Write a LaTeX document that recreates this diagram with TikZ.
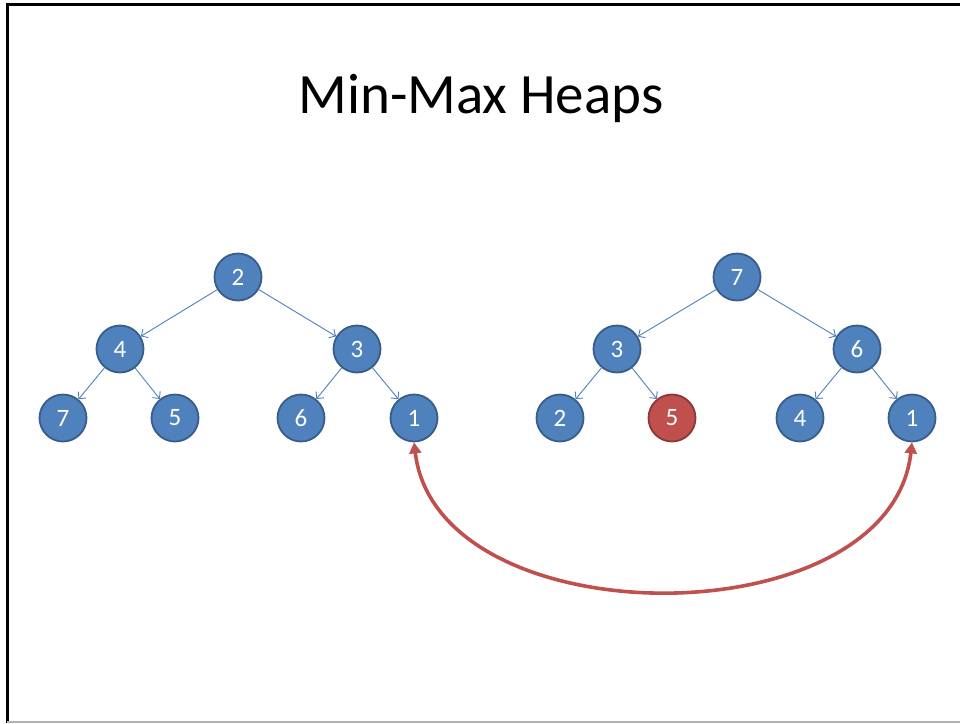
\documentclass[tikz,border=0pt]{standalone}
\usepackage{fontspec}
\setmainfont{Carlito}
\usetikzlibrary{arrows.meta}
\definecolor{nodeblue}{HTML}{4F81BD}
\definecolor{nodeedge}{HTML}{385D8A}
\definecolor{nodered}{HTML}{C0504D}
\definecolor{rededge}{HTML}{8C3836}
\begin{document}
\begin{tikzpicture}[x=1pt,y=-1pt,
  hnode/.style={circle,fill=nodeblue,draw=nodeedge,line width=1.8pt,minimum size=47pt,inner sep=0pt,text=white,font=\fontsize{25}{28}\selectfont},
  rnode/.style={hnode,fill=nodered,draw=rededge},
  tedge/.style={draw=nodeblue,line width=0.9pt,-{Straight Barb[length=5pt,width=10pt]}},
  swap/.style={draw=nodered,line width=3.6pt,{Triangle[length=11pt,width=12pt]}-{Triangle[length=11pt,width=12pt]}}]
\useasboundingbox (0,0) rectangle (960,723);
\fill[white] (0,0) rectangle (960,723);
\draw[black,line width=3pt] (7,723) -- (7,4.5) -- (960,4.5);
\draw[gray!60,line width=1.5pt] (7,722) -- (960,722);
\node (title) at (481,98) {\fontsize{57}{64}\selectfont Min-Max Heaps};
% left tree
\node[hnode] (a1) at (238,277) {2};
\node[hnode] (a2) at (120,349) {4};
\node[hnode] (a3) at (357,349) {3};
\node[hnode] (a4) at (63,418) {7};
\node[hnode] (a5) at (175,418) {5};
\node[hnode] (a6) at (301,418) {6};
\node[hnode] (a7) at (414,418) {1};
% right tree
\node[hnode] (b1) at (737,277) {7};
\node[hnode] (b2) at (617,349) {3};
\node[hnode] (b3) at (857,349) {6};
\node[hnode] (b4) at (560,418) {2};
\node[rnode] (b5) at (672,418) {5};
\node[hnode] (b6) at (800,418) {4};
\node[hnode] (b7) at (912,418) {1};
\foreach \p/\c in {a1/a2,a1/a3,a2/a4,a2/a5,a3/a6,a3/a7,b1/b2,b1/b3,b2/b4,b2/b5,b3/b6,b3/b7}
  \draw[tedge] (\p) -- (\c);
\draw[swap] (a7.south) .. controls (438,640) and (890,640) .. (b7.south);
\end{tikzpicture}
\end{document}
